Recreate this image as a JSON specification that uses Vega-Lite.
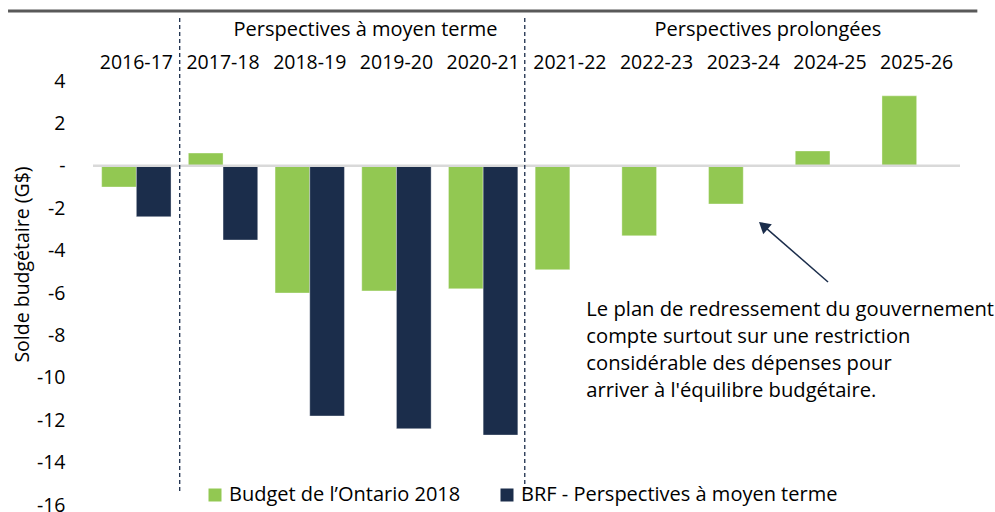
{
  "$schema": "https://vega.github.io/schema/vega-lite/v6.json",
  "width": 867,
  "height": 424,
  "autosize": {"type": "none"},
  "padding": {"left": 93, "top": 81, "right": 35, "bottom": 7},
  "config": {"font": "Open Sans", "view": {"stroke": null}},
  "datasets": {
    "soldes": [
      {"annee": "2016-17", "serie": "Budget de l’Ontario 2018", "solde": -1.0},
      {"annee": "2016-17", "serie": "BRF - Perspectives à moyen terme", "solde": -2.4},
      {"annee": "2017-18", "serie": "Budget de l’Ontario 2018", "solde": 0.6},
      {"annee": "2017-18", "serie": "BRF - Perspectives à moyen terme", "solde": -3.5},
      {"annee": "2018-19", "serie": "Budget de l’Ontario 2018", "solde": -6.0},
      {"annee": "2018-19", "serie": "BRF - Perspectives à moyen terme", "solde": -11.8},
      {"annee": "2019-20", "serie": "Budget de l’Ontario 2018", "solde": -5.9},
      {"annee": "2019-20", "serie": "BRF - Perspectives à moyen terme", "solde": -12.4},
      {"annee": "2020-21", "serie": "Budget de l’Ontario 2018", "solde": -5.8},
      {"annee": "2020-21", "serie": "BRF - Perspectives à moyen terme", "solde": -12.7},
      {"annee": "2021-22", "serie": "Budget de l’Ontario 2018", "solde": -4.9},
      {"annee": "2022-23", "serie": "Budget de l’Ontario 2018", "solde": -3.3},
      {"annee": "2023-24", "serie": "Budget de l’Ontario 2018", "solde": -1.8},
      {"annee": "2024-25", "serie": "Budget de l’Ontario 2018", "solde": 0.7},
      {"annee": "2025-26", "serie": "Budget de l’Ontario 2018", "solde": 3.3}
    ],
    "note": [{}]
  },
  "layer": [
    {
      "data": {"name": "soldes"},
      "mark": {"type": "bar", "stroke": "#ffffff", "strokeOpacity": 0.35, "strokeWidth": 1},
      "encoding": {
        "x": {
          "field": "annee", "type": "nominal", "sort": null,
          "scale": {"paddingInner": 0.2, "paddingOuter": 0.1},
          "axis": {"orient": "top", "title": null, "labelAngle": 0, "ticks": false, "tickSize": 0, "domain": false, "labelPadding": 13, "labelBaseline": "alphabetic", "labelFontSize": 19.5, "labelColor": "#000000", "labelFont": "Open Sans"}
        },
        "xOffset": {"field": "serie", "type": "nominal", "sort": ["Budget de l’Ontario 2018", "BRF - Perspectives à moyen terme"]},
        "y": {
          "field": "solde", "type": "quantitative",
          "scale": {"domain": [-16, 4], "nice": false},
          "axis": {
            "title": "Solde budgétaire (G$)",
            "values": [-16, -14, -12, -10, -8, -6, -4, -2, 0, 2, 4],
            "labelExpr": "datum.value == 0 ? '-  ' : toString(datum.value)",
            "grid": false, "domain": false, "ticks": false, "tickSize": 0,
            "labelPadding": 28, "labelFontSize": 19.5, "labelColor": "#000000", "labelFont": "Open Sans",
            "titleFontSize": 19.5, "titleFontWeight": "normal", "titleColor": "#000000", "titleFont": "Open Sans",
            "titleX": -71, "titleY": 183, "titleAngle": 270, "titleAlign": "center", "titleBaseline": "middle"
          }
        },
        "color": {
          "field": "serie", "type": "nominal",
          "scale": {"domain": ["Budget de l’Ontario 2018", "BRF - Perspectives à moyen terme"], "range": ["#92C852", "#1B2D4B"]},
          "legend": {"orient": "none", "legendX": 112, "legendY": 404, "direction": "horizontal", "title": null, "symbolType": "square", "symbolSize": 169, "symbolStrokeWidth": 0, "symbolOpacity": 1, "labelFontSize": 20, "labelColor": "#000000", "labelFont": "Open Sans", "labelOffset": 4, "labelLimit": 0, "columnPadding": 36, "padding": 0}
        }
      }
    },
    {
      "data": {"name": "note"},
      "mark": {"type": "rule", "color": "#D9D9D9", "strokeWidth": 2.5},
      "encoding": {"y": {"datum": 0, "type": "quantitative"}}
    },
    {
      "data": {"name": "note"},
      "mark": {"type": "rule", "color": "#595959", "strokeWidth": 3},
      "encoding": {
        "x": {"datum": -0.98, "type": "quantitative", "scale": {"domain": [0, 10], "nice": false, "zero": false}, "axis": null},
        "x2": {"datum": 10.2},
        "y": {"datum": 7.3, "type": "quantitative"}
      }
    },
    {
      "data": {"name": "note"},
      "mark": {"type": "rule", "color": "#1B2D4B", "strokeWidth": 1.3, "strokeDash": [4, 3]},
      "encoding": {
        "x": {"datum": 1, "type": "quantitative", "scale": {"domain": [0, 10], "nice": false, "zero": false}, "axis": null},
        "y": {"datum": 6.97, "type": "quantitative"},
        "y2": {"datum": -15.43}
      }
    },
    {
      "data": {"name": "note"},
      "mark": {"type": "rule", "color": "#1B2D4B", "strokeWidth": 1.3, "strokeDash": [4, 3]},
      "encoding": {
        "x": {"datum": 4.98, "type": "quantitative", "scale": {"domain": [0, 10], "nice": false, "zero": false}, "axis": null},
        "y": {"datum": 6.97, "type": "quantitative"},
        "y2": {"datum": -15.43}
      }
    },
    {
      "data": {"name": "note"},
      "mark": {"type": "text", "fontSize": 20, "font": "Open Sans", "color": "#000000", "align": "center", "baseline": "alphabetic"},
      "encoding": {
        "x": {"datum": 3.143, "type": "quantitative", "scale": {"domain": [0, 10], "nice": false, "zero": false}, "axis": null},
        "y": {"datum": 6.12, "type": "quantitative"},
        "text": {"value": "Perspectives à moyen terme"}
      }
    },
    {
      "data": {"name": "note"},
      "mark": {"type": "text", "fontSize": 20, "font": "Open Sans", "color": "#000000", "align": "center", "baseline": "alphabetic"},
      "encoding": {
        "x": {"datum": 7.785, "type": "quantitative", "scale": {"domain": [0, 10], "nice": false, "zero": false}, "axis": null},
        "y": {"datum": 6.12, "type": "quantitative"},
        "text": {"value": "Perspectives prolongées"}
      }
    },
    {
      "data": {"name": "note"},
      "mark": {"type": "text", "fontSize": 20.2, "font": "Open Sans", "color": "#000000", "align": "left", "baseline": "top", "lineHeight": 26.9},
      "encoding": {
        "x": {"datum": 5.69, "type": "quantitative", "scale": {"domain": [0, 10], "nice": false, "zero": false}, "axis": null},
        "y": {"datum": -6.33, "type": "quantitative"},
        "text": {"value": ["Le plan de redressement du gouvernement", "compte surtout sur une restriction", "considérable des dépenses pour", "arriver à l'équilibre budgétaire."]}
      }
    },
    {
      "data": {"name": "note"},
      "mark": {"type": "rule", "color": "#1B2D4B", "strokeWidth": 1.5},
      "encoding": {
        "x": {"datum": 8.478, "type": "quantitative", "scale": {"domain": [0, 10], "nice": false, "zero": false}, "axis": null},
        "x2": {"datum": 7.731},
        "y": {"datum": -5.48, "type": "quantitative"},
        "y2": {"datum": -2.82}
      }
    },
    {
      "data": {"name": "note"},
      "mark": {"type": "point", "shape": "triangle-up", "filled": true, "color": "#1B2D4B", "opacity": 1, "size": 170, "angle": 311},
      "encoding": {
        "x": {"datum": 7.731, "type": "quantitative", "scale": {"domain": [0, 10], "nice": false, "zero": false}, "axis": null},
        "y": {"datum": -2.82, "type": "quantitative"}
      }
    }
  ],
  "resolve": {"scale": {"x": "independent"}}
}
